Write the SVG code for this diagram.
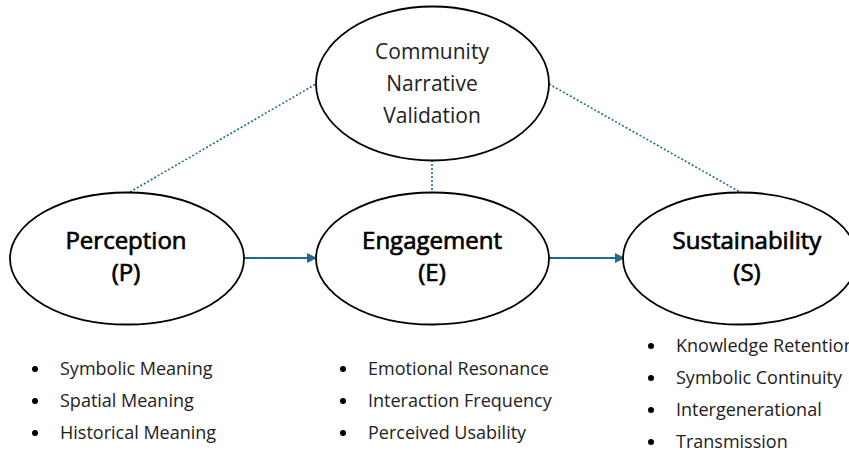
<svg xmlns="http://www.w3.org/2000/svg" width="849" height="452" viewBox="0 0 849 452">
  <style>
    .node { fill: #ffffff; stroke: #000000; stroke-width: 1.8; }
    .title { font-family: "Open Sans", "Noto Sans", "Liberation Sans", sans-serif; font-size: 24px; font-weight: 400; fill: #000; stroke: #000; stroke-width: 0.7; text-anchor: middle; }
    .label { font-family: "Open Sans", "Noto Sans", "Liberation Sans", sans-serif; font-size: 21px; fill: #222; text-anchor: middle; }
    .item { font-family: "Open Sans", "Noto Sans", "Liberation Sans", sans-serif; font-size: 18px; fill: #222; }
    .dot { fill: #000; }
    .flow { stroke: #1f6a8f; stroke-width: 1.8; fill: none; }
    .link { stroke: #1f6a8f; stroke-width: 1.6; stroke-dasharray: 2 2; fill: none; }
  </style>
  <defs>
    <marker id="arrow" markerWidth="10" markerHeight="10" refX="9" refY="5" orient="auto" markerUnits="userSpaceOnUse">
      <path d="M0,0 L10,5 L0,10 Z" fill="#1f6a8f"/>
    </marker>
  </defs>

  <!-- connectors -->
  <g id="connectors">
    <line class="link" x1="130" y1="192" x2="316" y2="84"/>
    <line class="link" x1="549" y1="84" x2="740" y2="192"/>
    <line class="link" x1="432" y1="160" x2="432" y2="192"/>
    <line class="flow" x1="244" y1="258" x2="316" y2="258" marker-end="url(#arrow)"/>
    <line class="flow" x1="549" y1="258" x2="624" y2="258" marker-end="url(#arrow)"/>
  </g>

  <!-- community validation -->
  <g id="community">
    <ellipse class="node" cx="432.5" cy="83.5" rx="116.5" ry="77"/>
    <text class="label" x="432" y="59">Community</text>
    <text class="label" x="432" y="91">Narrative</text>
    <text class="label" x="432" y="123">Validation</text>
  </g>

  <!-- perception -->
  <g id="perception">
    <ellipse class="node" cx="127" cy="258.5" rx="117" ry="66"/>
    <text class="title" x="126" y="249">Perception</text>
    <text class="title" x="126" y="281">(P)</text>
  </g>

  <!-- engagement -->
  <g id="engagement">
    <ellipse class="node" cx="432.5" cy="258.5" rx="116.5" ry="66"/>
    <text class="title" x="432" y="249">Engagement</text>
    <text class="title" x="432" y="281">(E)</text>
  </g>

  <!-- sustainability -->
  <g id="sustainability">
    <ellipse class="node" cx="740" cy="258.5" rx="117" ry="66"/>
    <text class="title" x="747" y="249">Sustainability</text>
    <text class="title" x="747" y="281">(S)</text>
  </g>

  <!-- perception indicators -->
  <g id="perception-items">
    <circle class="dot" cx="35" cy="369" r="3"/>
    <text class="item" x="60" y="375">Symbolic Meaning</text>
    <circle class="dot" cx="35" cy="401" r="3"/>
    <text class="item" x="60" y="407">Spatial Meaning</text>
    <circle class="dot" cx="35" cy="433" r="3"/>
    <text class="item" x="60" y="439">Historical Meaning</text>
  </g>

  <!-- engagement indicators -->
  <g id="engagement-items">
    <circle class="dot" cx="343" cy="369" r="3"/>
    <text class="item" x="368" y="375">Emotional Resonance</text>
    <circle class="dot" cx="343" cy="401" r="3"/>
    <text class="item" x="368" y="407">Interaction Frequency</text>
    <circle class="dot" cx="343" cy="433" r="3"/>
    <text class="item" x="368" y="439">Perceived Usability</text>
  </g>

  <!-- sustainability indicators -->
  <g id="sustainability-items">
    <circle class="dot" cx="651" cy="346" r="3"/>
    <text class="item" x="676" y="352">Knowledge Retention</text>
    <circle class="dot" cx="651" cy="378" r="3"/>
    <text class="item" x="676" y="384">Symbolic Continuity</text>
    <circle class="dot" cx="651" cy="410" r="3"/>
    <text class="item" x="676" y="416">Intergenerational</text>
    <circle class="dot" cx="651" cy="442" r="3"/>
    <text class="item" x="676" y="448">Transmission</text>
  </g>
</svg>
